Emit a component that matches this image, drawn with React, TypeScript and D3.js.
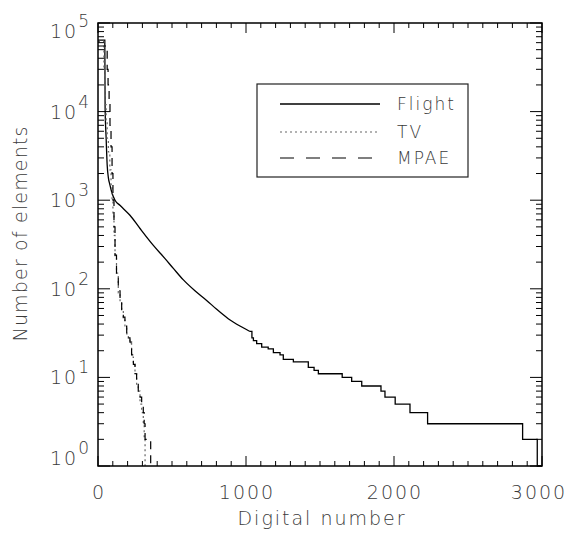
import React from 'react';
import * as d3 from 'd3';

// [digital number, number of elements]
const flightHead: [number, number][] = [
  [0, 64000], [46, 64000], [48, 11000], [55, 5000], [62, 2500], [70, 1800],
  [80, 1500], [95, 1200], [115, 1000], [150, 870], [216, 676], [284, 479],
  [374, 309], [453, 219], [509, 170], [577, 126], [655, 95], [734, 74],
  [800, 59], [880, 46], [959, 38], [1027, 33],
];

// low counts, drawn as histogram steps
const flightTail: [number, number][] = [
  [1027, 33], [1040, 28], [1050, 26], [1072, 24], [1106, 22], [1150, 21],
  [1185, 19], [1230, 18], [1252, 16], [1320, 15], [1421, 13], [1460, 12],
  [1489, 11], [1650, 10], [1714, 9], [1782, 8], [1912, 7], [1939, 6],
  [2008, 5], [2108, 4], [2227, 3], [2869, 2], [2968, 1], [3000, 1],
];

const tv: [number, number][] = [
  [0, 62000], [30, 62000], [40, 30000], [47, 12000], [55, 8000], [62, 5000],
  [70, 3500], [80, 2200], [88, 1500], [95, 1000], [101, 700], [108, 400],
  [115, 220], [125, 150], [137, 90], [149, 72], [160, 57], [171, 47],
  [182, 37], [194, 31], [205, 27], [216, 24], [227, 17], [239, 14],
  [250, 11], [261, 8], [272, 7], [284, 5], [295, 4], [306, 3], [312, 2], [318, 1],
];

const mpae: [number, number][] = [
  [0, 55000], [55, 55000], [62, 30000], [68, 20000], [75, 12000], [81, 7000],
  [88, 4000], [95, 2000], [101, 1000], [108, 500], [115, 240], [125, 150],
  [137, 95], [149, 74], [160, 58], [171, 48], [182, 38], [194, 32],
  [205, 28], [216, 25], [227, 18], [239, 14], [250, 11], [261, 9],
  [272, 7], [284, 6], [295, 5], [306, 4], [312, 3], [318, 2], [356, 1],
];

const xTicks = d3.range(0, 3001, 100);
const xLabels = [0, 1000, 2000, 3000];
const yExponents = [0, 1, 2, 3, 4, 5];
const legendItems = ['Flight', 'TV', 'MPAE'];

const W = 570;
const H = 533;
const left = 98, right = 542, top = 23, bottom = 466;
const font = '"DejaVu Sans", sans-serif';
const textColor = '#3a3a3a';

export default function App() {
  const x = d3.scaleLinear().domain([0, 3000]).range([left, right]);
  const y = d3.scaleLog().domain([1, 1e5]).range([bottom, top]);

  const lineSmooth = d3.line<[number, number]>().x(d => x(d[0])).y(d => y(d[1])).curve(d3.curveMonotoneX);
  const lineStep = d3.line<[number, number]>().x(d => x(d[0])).y(d => y(d[1])).curve(d3.curveStepAfter);

  const yMinor: number[] = [];
  for (let e = 0; e < 5; e++) for (let k = 2; k <= 9; k++) yMinor.push(k * Math.pow(10, e));

  const styles = [
    { stroke: '#000', dash: undefined as string | undefined, width: 1.3 },
    { stroke: '#666', dash: '2 3', width: 1.2 },
    { stroke: '#000', dash: '14 12', width: 1.2 },
  ];

  return (
    <svg width={W} height={H} style={{ position: 'absolute', left: 0, top: 0, background: '#fff' }}>
      {/* data */}
      <path d={lineSmooth(flightHead) || ''} fill="none" stroke={styles[0].stroke} strokeWidth={styles[0].width} />
      <path d={lineStep(flightTail) || ''} fill="none" stroke={styles[0].stroke} strokeWidth={styles[0].width} />
      <path d={lineStep(tv) || ''} fill="none" stroke={styles[1].stroke} strokeWidth={styles[1].width} strokeDasharray={styles[1].dash} />
      <path d={lineStep(mpae) || ''} fill="none" stroke={styles[2].stroke} strokeWidth={styles[2].width} strokeDasharray="8 6" />

      {/* frame */}
      <rect x={left} y={top} width={right - left} height={bottom - top} fill="none" stroke="#000" strokeWidth={1.5} />

      {/* x ticks */}
      {xTicks.map(t => {
        const len = t % 1000 === 0 ? 10 : 5;
        return (
          <g key={'xt' + t} stroke="#000" strokeWidth={1}>
            <line x1={x(t)} x2={x(t)} y1={bottom} y2={bottom - len} />
            <line x1={x(t)} x2={x(t)} y1={top} y2={top + len} />
          </g>
        );
      })}

      {/* y ticks */}
      {yExponents.map(e => {
        const v = Math.pow(10, e);
        return (
          <g key={'ym' + e} stroke="#000" strokeWidth={1}>
            <line x1={left} x2={left + 12} y1={y(v)} y2={y(v)} />
            <line x1={right} x2={right - 12} y1={y(v)} y2={y(v)} />
          </g>
        );
      })}
      {yMinor.map(v => (
        <g key={'yn' + v} stroke="#000" strokeWidth={1}>
          <line x1={left} x2={left + 6} y1={y(v)} y2={y(v)} />
          <line x1={right} x2={right - 6} y1={y(v)} y2={y(v)} />
        </g>
      ))}

      {/* x labels */}
      {xLabels.map((t, i) => (
        <text key={'xl' + t} x={x(t) + (i === xLabels.length - 1 ? -4 : 0) + 1} y={499}
          textAnchor="middle" fontFamily={font} fontWeight={200} fontSize={19} fill={textColor} letterSpacing={2}>
          {t}
        </text>
      ))}

      {/* y labels */}
      {yExponents.map((e, i) => {
        const shift = i === 0 ? -8 : i === yExponents.length - 1 ? 8 : 0;
        return (
          <text key={'yl' + e} x={91} y={y(Math.pow(10, e)) + 7 + shift} textAnchor="end"
            fontFamily={font} fontWeight={200} fontSize={19} fill={textColor} letterSpacing={2}>
            <tspan>10</tspan>
            <tspan dy={-11} fontSize={17}>{e}</tspan>
          </text>
        );
      })}

      {/* axis titles */}
      <text x={321} y={525} textAnchor="middle" fontFamily={font} fontWeight={200} fontSize={19}
        fill={textColor} textLength={167} lengthAdjust="spacing">Digital number</text>
      <text transform="translate(27,234) rotate(-90)" textAnchor="middle" fontFamily={font} fontWeight={200}
        fontSize={19} fill={textColor} textLength={215} lengthAdjust="spacing">Number of elements</text>

      {/* legend */}
      <rect x={257} y={84} width={211} height={93} fill="#fff" stroke="#222" strokeWidth={1.2} />
      {legendItems.map((name, i) => {
        const ly = [104, 132, 158][i];
        return (
          <g key={name}>
            <line x1={280} x2={380} y1={ly} y2={ly} stroke={styles[i].stroke} strokeWidth={styles[i].width}
              strokeDasharray={styles[i].dash} />
            <text x={397} y={ly + 6} fontFamily={font} fontWeight={200} fontSize={17} fill={textColor}
              letterSpacing={2}>{name}</text>
          </g>
        );
      })}
    </svg>
  );
}
